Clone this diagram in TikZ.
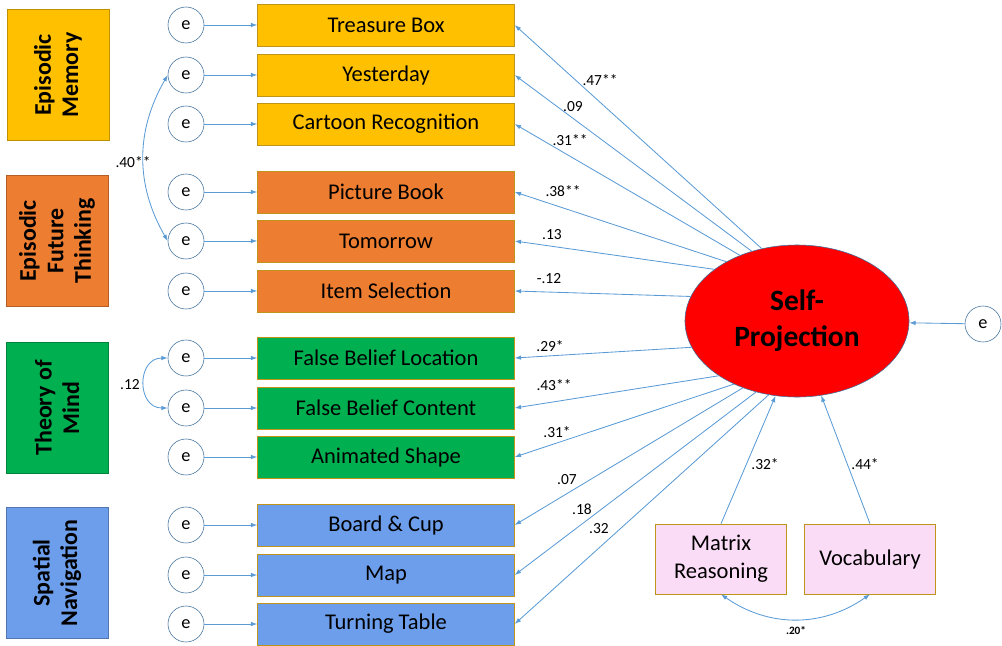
\documentclass[tikz,border=0pt]{standalone}
\usepackage{fontspec}
\setmainfont{Carlito}
\usetikzlibrary{shapes.geometric,arrows.meta}
\definecolor{memgold}{HTML}{FFC000}
\definecolor{eftorange}{HTML}{ED7D31}
\definecolor{tomgreen}{HTML}{00B050}
\definecolor{navblue}{HTML}{6D9EEB}
\definecolor{pathblue}{HTML}{5B9BD5}
\definecolor{ringblue}{HTML}{41719C}
\definecolor{rimgold}{HTML}{C09418}
\definecolor{ctrlpink}{HTML}{FADCF6}
\def\link{\draw[pathblue,line width=0.6pt,-{Latex[length=4.5pt,width=3.2pt]}]}
\def\covar{\draw[pathblue,line width=0.6pt,{Latex[length=4.5pt,width=3.2pt]}-{Latex[length=4.5pt,width=3.2pt]}]}
\tikzset{
  domain/.style={draw=#1!75!black,fill=#1,rotate=90,minimum width=3.28cm,minimum height=2.55cm,
    align=center,font=\fontsize{17}{19.5}\selectfont\bfseries},
  task/.style={draw=rimgold,fill=#1,minimum width=6.42cm,minimum height=1.06cm,
    font=\fontsize{16}{19}\selectfont},
  control/.style={draw=rimgold,fill=ctrlpink,minimum width=3.28cm,minimum height=1.75cm,
    align=center,font=\fontsize{16}{20}\selectfont},
  err/.style={circle,draw=ringblue,fill=white,minimum size=0.9cm,inner sep=0pt,
    font=\fontsize{13}{15}\selectfont},
  coef/.style={font=\fontsize{11}{13}\selectfont,inner sep=1pt},
}

\begin{document}
\begin{tikzpicture}[x=0.025cm,y=-0.025cm]
\useasboundingbox (0,0) rectangle (1002,646);
% domains
\node[domain=memgold] (dEM) at (58,75) {Episodic\\Memory};
\node[domain=eftorange] (dEFT) at (57,241) {Episodic\\Future\\Thinking};
\node[domain=tomgreen] (dToM) at (57,408) {Theory of\\Mind};
\node[domain=navblue] (dSN) at (57,573) {Spatial\\Navigation};
% tasks with their errors
\foreach \i/\y/\c/\t in {1/25/memgold/Treasure Box,2/75/memgold/Yesterday,
    3/124/memgold/Cartoon Recognition,4/192/eftorange/Picture Book,
    5/241/eftorange/Tomorrow,6/291/eftorange/Item Selection,
    7/358/tomgreen/False Belief Location,8/408/tomgreen/False Belief Content,
    9/457/tomgreen/Animated Shape,10/525/navblue/Board \& Cup,
    11/575/navblue/Map,12/624/navblue/Turning Table}{
  \node[err] (e\i) at (186,\y) {e};
  \node[task=\c] (t\i) at (386,\y) {\t};
  \link (e\i) -- (t\i);
}
% latent factor
\node[ellipse,draw=ringblue,fill=red,minimum width=5.6cm,minimum height=3.8cm,inner sep=0pt,
  align=center,font=\fontsize{21}{25.5}\selectfont\bfseries] (sp) at (797,321) {Self-\\Projection};
\node[err] (eSP) at (983,324) {e};
\link (eSP) -- (sp);
% loadings
\foreach \i/\a/\x/\y/\w in {1/116/600/80/.47**,2/123/573/107/.09,3/131/570/140/.31**,
    4/140/563/191/.38**,5/148/552/235/.13,6/167/549/279/-.12,
    7/194/550/346/.29*,8/215/554/385/.43**,9/225/557/432/.31*,
    10/231/567/480/.07,11/240/582/509/.18,12/249/599/529/.32}{
  \link (sp.\a) -- (t\i.east);
  \node[coef] (w\i) at (\x,\y) {\w};
}
% controls
\node[control] (mr) at (721,559) {Matrix\\Reasoning};
\node[control] (vb) at (870,559) {Vocabulary};
\link (mr.north) -- (sp.254);
\link (vb.north) -- (sp.288);
\node[coef] (wMR) at (765,464) {.32*};
\node[coef] (wVB) at (865,464) {.44*};
% covariances
\covar (e2.west) to[bend right=30] (e5.west);
\covar (e7.west) to[out=180,in=180,looseness=1.6] (e8.west);
\covar (mr.south) to[bend right=35] (vb.south);
\node[coef] (r1) at (133,162) {.40**};
\node[coef] (r2) at (130,385) {.12};
\node[font=\fontsize{8}{10}\selectfont\bfseries] (r3) at (796,631) {.20*};
\end{tikzpicture}
\end{document}
